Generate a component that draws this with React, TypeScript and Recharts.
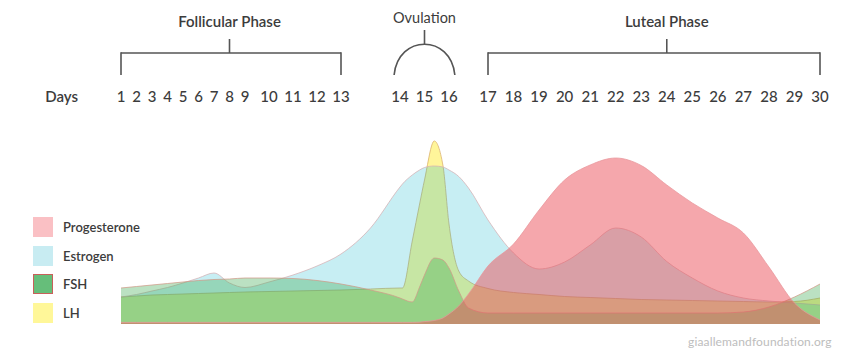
import { ComposedChart, Area, XAxis, YAxis, ReferenceLine, Legend } from "recharts";

// sample days (fractional ones around ovulation where the curves turn fast)
const days = [
  1, 2, 3, 4, 5, 6, 7, 8, 9, 10, 11, 12, 13, 13.5, 14, 14.1, 14.5, 14.8, 15, 15.4,
  15.75, 16, 16.25, 16.5, 17, 18, 19, 20, 21, 22, 23, 24, 25, 26, 27, 28, 29, 30,
];

const progesterone = [
  0.8, 0.8, 0.8, 0.8, 0.8, 0.8, 0.8, 0.8, 0.8, 0.8, 0.8, 0.8, 0.8, 0.8, 0.8, 0.8, 0.8, 0.9, 1.2, 1.75,
  3, 5, 9, 15, 29, 40, 57, 72, 79.5, 83, 79.25, 69.5, 60.5, 53, 45.5, 28.5, 10.5, 2,
];

const estrogen = [
  13.5, 14.75, 16.5, 18.25, 20.5, 23, 25.5, 20.5, 18.25, 21, 24.5, 29, 35, 48, 68.5, 70, 74.5, 77, 78.25, 79,
  78.5, 77, 73.75, 68, 52, 35.5, 27.5, 31, 39.5, 48, 43.5, 31.25, 23, 16.5, 13, 11.5, 10.5, 9.5,
];

const fsh = [
  18, 18.75, 19.5, 20.25, 21, 21.75, 22.25, 22.5, 23, 23, 22.75, 21.75, 20, 17, 13, 12.5, 11, 18.5, 24.5, 33,
  32, 28, 16.5, 8, 5.5, 5.5, 5.5, 5.5, 5.5, 5.5, 5.5, 5.5, 5.5, 5.5, 6, 8.5, 13.5, 20,
];

const lh = [
  13.5, 14, 14.5, 14.75, 15, 15.25, 15.5, 15.75, 16, 16.25, 16.5, 16.75, 17, 17.5, 18, 18, 41.5, 60, 72, 91.5,
  79.5, 50, 26.5, 21.5, 17.75, 15.75, 14.75, 13.75, 13.25, 12.75, 12.25, 12, 11.75, 11.5, 11.25, 11, 11.25, 13,
];

const dayLabels = [
  1, 2, 3, 4, 5, 6, 7, 8, 9, 10, 11, 12, 13, 14, 15, 16, 17, 18, 19, 20,
  21, 22, 23, 24, 25, 26, 27, 28, 29, 30,
];

const legendOrder = ["Progesterone", "Estrogen", "FSH", "LH"];

const phases = [
  { name: "Follicular Phase", from: 1, to: 13, mid: 8 },
  { name: "Luteal Phase", from: 17, to: 30, mid: 24 },
];
const ovulation = { name: "Ovulation", from: 13.9, to: 16.15, mid: 15 };

// the printed calendar is not evenly spaced: day -> axis units
const calendarStops: [number, number][] = [
  [1, 0], [9, 124], [13, 220], [14, 279], [16, 328], [17, 367], [30, 699],
];

function dayToPos(day: number): number {
  for (let i = 1; i < calendarStops.length; i++) {
    const [d0, p0] = calendarStops[i - 1];
    const [d1, p1] = calendarStops[i];
    if (day <= d1 || i === calendarStops.length - 1) {
      return p0 + ((day - d0) * (p1 - p0)) / (d1 - d0);
    }
  }
  return 0;
}

const rows = days.map((d, i) => ({
  pos: dayToPos(d),
  day: d,
  progesterone: progesterone[i],
  estrogen: estrogen[i],
  fsh: fsh[i],
  lh: lh[i],
}));

const tickPositions = dayLabels.map(dayToPos);

const FONT = "Lato, 'Open Sans', sans-serif";
const INK = "#3c3c3c";
const BRACKET = "#555555";

const series = [
  { name: "LH", key: "lh", fill: "#ffe81e", fillOpacity: 0.45, stroke: "#d9ad6a", swatch: "#fff799" },
  { name: "Estrogen", key: "estrogen", fill: "#00b0c8", fillOpacity: 0.22, stroke: "#d4b0b4", swatch: "#c8ecf2" },
  { name: "FSH", key: "fsh", fill: "#3caa50", fillOpacity: 0.35, stroke: "#d09a88", swatch: "#66be7a" },
  { name: "Progesterone", key: "progesterone", fill: "#eb505a", fillOpacity: 0.5, stroke: "#e8959b", swatch: "#fac0c4" },
];

// bracket heights in y units (plot is 0..100)
const BAR_Y = 135.5;
const FOOT_Y = 124.5;
const STEM_Y = 142.5;

function OvulationArc(props: any) {
  const { x1, y1, x2, y2 } = props;
  const c = 41;
  return (
    <path
      d={`M${x1},${y1} C${x1 + 4},${y1 - c} ${x2 - 4},${y2 - c} ${x2},${y2}`}
      fill="none"
      stroke={BRACKET}
      strokeWidth={1.6}
    />
  );
}

function HormoneLegend(props: any) {
  const items = [...(props.payload || [])].sort(
    (a: any, b: any) => legendOrder.indexOf(a.value) - legendOrder.indexOf(b.value)
  );
  return (
    <div>
      {items.map((item: any) => {
        const s = series.find((x) => x.name === item.value)!;
        return (
          <div key={item.value} style={{ display: "flex", alignItems: "center", height: 20, marginBottom: 8.7 }}>
            <div
              style={{
                width: 20,
                height: 20,
                boxSizing: "border-box",
                background: s.swatch,
                border: s.name === "FSH" ? "1.5px solid #c8605a" : "none",
              }}
            />
            <span style={{ marginLeft: 10, fontFamily: FONT, fontSize: 13, fontWeight: 600, color: INK }}>
              {item.value}
            </span>
          </div>
        );
      })}
    </div>
  );
}

export default function App() {
  const labelStyle = { fill: INK, fontSize: 15, fontFamily: FONT, fontWeight: 600 };
  return (
    <div style={{ position: "absolute", left: 0, top: 0, width: 864, height: 360, background: "#fff" }}>
      <ComposedChart width={864} height={360} data={rows} margin={{ top: 70, right: 44, bottom: 36, left: 121 }}>
        <XAxis
          dataKey="pos"
          type="number"
          orientation="top"
          domain={[0, 699]}
          ticks={tickPositions}
          interval={0}
          height={54}
          axisLine={false}
          tickLine={false}
          tickMargin={16}
          tick={{ ...labelStyle, fontWeight: 500 }}
          tickFormatter={(v: number) => {
            const i = tickPositions.findIndex((t) => Math.abs(t - v) < 0.01);
            return i >= 0 ? String(dayLabels[i]) : "";
          }}
          label={{ value: "Days", position: "left", offset: 43, ...labelStyle }}
        />
        <YAxis type="number" domain={[0, 100]} hide />

        {series.map((s) => (
          <Area
            key={s.key}
            name={s.name}
            dataKey={s.key}
            type="monotone"
            fill={s.fill}
            fillOpacity={s.fillOpacity}
            stroke={s.stroke}
            strokeOpacity={0.75}
            strokeWidth={1}
            dot={false}
            activeDot={false}
            isAnimationActive={false}
          />
        ))}

        {phases.map((p) => [
          <ReferenceLine
            key={p.name + "bar"}
            ifOverflow="visible"
            stroke={BRACKET}
            strokeWidth={1.6}
            segment={[{ x: dayToPos(p.from), y: BAR_Y }, { x: dayToPos(p.to), y: BAR_Y }]}
          />,
          <ReferenceLine
            key={p.name + "l"}
            ifOverflow="visible"
            stroke={BRACKET}
            strokeWidth={1.6}
            segment={[{ x: dayToPos(p.from), y: BAR_Y + 0.4 }, { x: dayToPos(p.from), y: FOOT_Y }]}
          />,
          <ReferenceLine
            key={p.name + "r"}
            ifOverflow="visible"
            stroke={BRACKET}
            strokeWidth={1.6}
            segment={[{ x: dayToPos(p.to), y: BAR_Y + 0.4 }, { x: dayToPos(p.to), y: FOOT_Y }]}
          />,
          <ReferenceLine
            key={p.name + "stem"}
            ifOverflow="visible"
            stroke={BRACKET}
            strokeWidth={1.6}
            segment={[{ x: dayToPos(p.mid), y: STEM_Y }, { x: dayToPos(p.mid), y: BAR_Y }]}
            label={{ value: p.name, position: "top", offset: 12, ...labelStyle }}
          />,
        ])}

        <ReferenceLine
          ifOverflow="visible"
          segment={[{ x: dayToPos(ovulation.from), y: FOOT_Y }, { x: dayToPos(ovulation.to), y: FOOT_Y }]}
          shape={OvulationArc}
        />
        <ReferenceLine
          ifOverflow="visible"
          stroke={BRACKET}
          strokeWidth={1.6}
          segment={[{ x: dayToPos(ovulation.mid), y: 147 }, { x: dayToPos(ovulation.mid), y: 140 }]}
          label={{ value: ovulation.name, position: "top", offset: 7, ...labelStyle, fontSize: 14.5, fontWeight: 400 }}
        />

        <Legend
          layout="horizontal"
          align="center"
          verticalAlign="middle"
          wrapperStyle={{ left: 33, top: 217, width: 140, height: "auto" }}
          content={(props: any) => <HormoneLegend {...props} />}
        />
      </ComposedChart>
      <div
        style={{
          position: "absolute",
          left: 688,
          top: 334,
          fontFamily: FONT,
          fontSize: 12,
          color: "#bdbdbd",
          letterSpacing: 0.15,
        }}
      >
        giaallemandfoundation.org
      </div>
    </div>
  );
}
